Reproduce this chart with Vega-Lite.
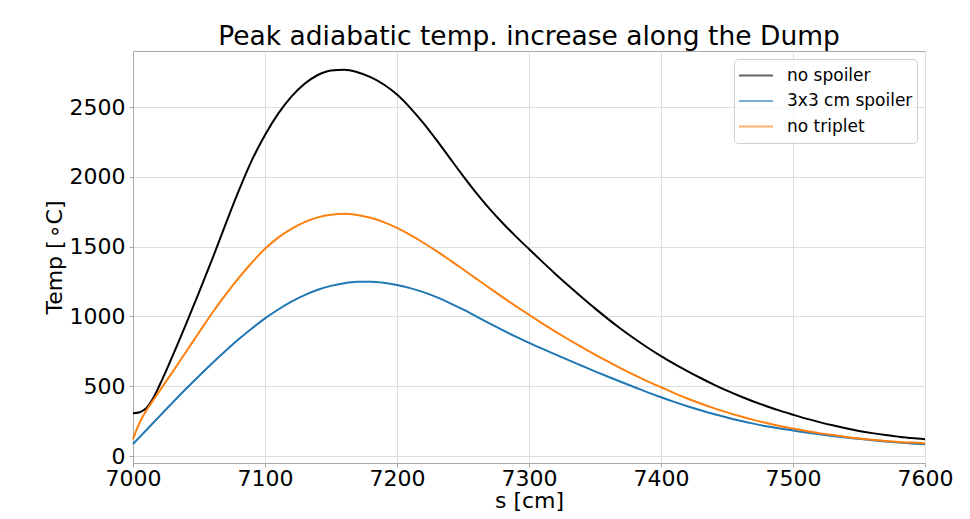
{
  "$schema": "https://vega.github.io/schema/vega-lite/v6.json",
  "autosize": {"type": "none"},
  "width": 792,
  "height": 412,
  "padding": {"left": 133, "top": 51, "right": 45, "bottom": 56},
  "background": "white",
  "config": {
    "font": "DejaVu Sans",
    "view": {"stroke": "#a8a8a8", "strokeWidth": 1},
    "axis": {
      "labelFont": "DejaVu Sans", "titleFont": "DejaVu Sans",
      "labelFontSize": 22, "titleFontSize": 22, "titleFontWeight": "normal",
      "labelColor": "#000000", "titleColor": "#000000",
      "gridColor": "#dddddd", "gridWidth": 1,
      "domainColor": "#a8a8a8", "tickColor": "#a8a8a8", "tickSize": 4
    }
  },
  "title": {
    "text": "Peak adiabatic temp. increase along the Dump",
    "font": "DejaVu Sans", "fontSize": 26.5, "fontWeight": "normal",
    "color": "#000000", "offset": 1, "anchor": "middle"
  },
  "data": {"values": [
    {"s": 7000, "T": 306, "case": "no spoiler"},
    {"s": 7005, "T": 314, "case": "no spoiler"},
    {"s": 7010, "T": 342, "case": "no spoiler"},
    {"s": 7015, "T": 410, "case": "no spoiler"},
    {"s": 7020, "T": 505, "case": "no spoiler"},
    {"s": 7030, "T": 718, "case": "no spoiler"},
    {"s": 7040, "T": 942, "case": "no spoiler"},
    {"s": 7050, "T": 1172, "case": "no spoiler"},
    {"s": 7060, "T": 1410, "case": "no spoiler"},
    {"s": 7070, "T": 1658, "case": "no spoiler"},
    {"s": 7080, "T": 1898, "case": "no spoiler"},
    {"s": 7090, "T": 2118, "case": "no spoiler"},
    {"s": 7100, "T": 2300, "case": "no spoiler"},
    {"s": 7110, "T": 2453, "case": "no spoiler"},
    {"s": 7120, "T": 2575, "case": "no spoiler"},
    {"s": 7130, "T": 2667, "case": "no spoiler"},
    {"s": 7140, "T": 2730, "case": "no spoiler"},
    {"s": 7150, "T": 2763, "case": "no spoiler"},
    {"s": 7160, "T": 2768, "case": "no spoiler"},
    {"s": 7170, "T": 2750, "case": "no spoiler"},
    {"s": 7180, "T": 2715, "case": "no spoiler"},
    {"s": 7190, "T": 2662, "case": "no spoiler"},
    {"s": 7200, "T": 2590, "case": "no spoiler"},
    {"s": 7210, "T": 2495, "case": "no spoiler"},
    {"s": 7220, "T": 2385, "case": "no spoiler"},
    {"s": 7230, "T": 2263, "case": "no spoiler"},
    {"s": 7240, "T": 2135, "case": "no spoiler"},
    {"s": 7250, "T": 2008, "case": "no spoiler"},
    {"s": 7260, "T": 1886, "case": "no spoiler"},
    {"s": 7270, "T": 1773, "case": "no spoiler"},
    {"s": 7280, "T": 1670, "case": "no spoiler"},
    {"s": 7290, "T": 1574, "case": "no spoiler"},
    {"s": 7300, "T": 1483, "case": "no spoiler"},
    {"s": 7310, "T": 1393, "case": "no spoiler"},
    {"s": 7320, "T": 1305, "case": "no spoiler"},
    {"s": 7330, "T": 1220, "case": "no spoiler"},
    {"s": 7340, "T": 1138, "case": "no spoiler"},
    {"s": 7350, "T": 1058, "case": "no spoiler"},
    {"s": 7360, "T": 981, "case": "no spoiler"},
    {"s": 7370, "T": 908, "case": "no spoiler"},
    {"s": 7380, "T": 840, "case": "no spoiler"},
    {"s": 7390, "T": 776, "case": "no spoiler"},
    {"s": 7400, "T": 716, "case": "no spoiler"},
    {"s": 7410, "T": 661, "case": "no spoiler"},
    {"s": 7420, "T": 609, "case": "no spoiler"},
    {"s": 7430, "T": 559, "case": "no spoiler"},
    {"s": 7440, "T": 512, "case": "no spoiler"},
    {"s": 7450, "T": 468, "case": "no spoiler"},
    {"s": 7460, "T": 428, "case": "no spoiler"},
    {"s": 7470, "T": 391, "case": "no spoiler"},
    {"s": 7480, "T": 357, "case": "no spoiler"},
    {"s": 7490, "T": 325, "case": "no spoiler"},
    {"s": 7500, "T": 296, "case": "no spoiler"},
    {"s": 7510, "T": 268, "case": "no spoiler"},
    {"s": 7520, "T": 243, "case": "no spoiler"},
    {"s": 7530, "T": 220, "case": "no spoiler"},
    {"s": 7540, "T": 199, "case": "no spoiler"},
    {"s": 7550, "T": 180, "case": "no spoiler"},
    {"s": 7560, "T": 164, "case": "no spoiler"},
    {"s": 7570, "T": 150, "case": "no spoiler"},
    {"s": 7580, "T": 139, "case": "no spoiler"},
    {"s": 7590, "T": 129, "case": "no spoiler"},
    {"s": 7600, "T": 121, "case": "no spoiler"},

    {"s": 7000, "T": 86, "case": "3x3 cm spoiler"},
    {"s": 7010, "T": 185, "case": "3x3 cm spoiler"},
    {"s": 7020, "T": 284, "case": "3x3 cm spoiler"},
    {"s": 7030, "T": 383, "case": "3x3 cm spoiler"},
    {"s": 7040, "T": 480, "case": "3x3 cm spoiler"},
    {"s": 7050, "T": 574, "case": "3x3 cm spoiler"},
    {"s": 7060, "T": 665, "case": "3x3 cm spoiler"},
    {"s": 7070, "T": 752, "case": "3x3 cm spoiler"},
    {"s": 7080, "T": 836, "case": "3x3 cm spoiler"},
    {"s": 7090, "T": 914, "case": "3x3 cm spoiler"},
    {"s": 7100, "T": 986, "case": "3x3 cm spoiler"},
    {"s": 7110, "T": 1050, "case": "3x3 cm spoiler"},
    {"s": 7120, "T": 1106, "case": "3x3 cm spoiler"},
    {"s": 7130, "T": 1153, "case": "3x3 cm spoiler"},
    {"s": 7140, "T": 1191, "case": "3x3 cm spoiler"},
    {"s": 7150, "T": 1219, "case": "3x3 cm spoiler"},
    {"s": 7160, "T": 1238, "case": "3x3 cm spoiler"},
    {"s": 7170, "T": 1248, "case": "3x3 cm spoiler"},
    {"s": 7180, "T": 1249, "case": "3x3 cm spoiler"},
    {"s": 7190, "T": 1241, "case": "3x3 cm spoiler"},
    {"s": 7200, "T": 1225, "case": "3x3 cm spoiler"},
    {"s": 7210, "T": 1203, "case": "3x3 cm spoiler"},
    {"s": 7220, "T": 1174, "case": "3x3 cm spoiler"},
    {"s": 7230, "T": 1138, "case": "3x3 cm spoiler"},
    {"s": 7240, "T": 1096, "case": "3x3 cm spoiler"},
    {"s": 7250, "T": 1050, "case": "3x3 cm spoiler"},
    {"s": 7260, "T": 1001, "case": "3x3 cm spoiler"},
    {"s": 7270, "T": 951, "case": "3x3 cm spoiler"},
    {"s": 7280, "T": 902, "case": "3x3 cm spoiler"},
    {"s": 7290, "T": 855, "case": "3x3 cm spoiler"},
    {"s": 7300, "T": 811, "case": "3x3 cm spoiler"},
    {"s": 7310, "T": 769, "case": "3x3 cm spoiler"},
    {"s": 7320, "T": 728, "case": "3x3 cm spoiler"},
    {"s": 7330, "T": 687, "case": "3x3 cm spoiler"},
    {"s": 7340, "T": 647, "case": "3x3 cm spoiler"},
    {"s": 7350, "T": 607, "case": "3x3 cm spoiler"},
    {"s": 7360, "T": 568, "case": "3x3 cm spoiler"},
    {"s": 7370, "T": 530, "case": "3x3 cm spoiler"},
    {"s": 7380, "T": 493, "case": "3x3 cm spoiler"},
    {"s": 7390, "T": 456, "case": "3x3 cm spoiler"},
    {"s": 7400, "T": 421, "case": "3x3 cm spoiler"},
    {"s": 7410, "T": 388, "case": "3x3 cm spoiler"},
    {"s": 7420, "T": 357, "case": "3x3 cm spoiler"},
    {"s": 7430, "T": 328, "case": "3x3 cm spoiler"},
    {"s": 7440, "T": 301, "case": "3x3 cm spoiler"},
    {"s": 7450, "T": 276, "case": "3x3 cm spoiler"},
    {"s": 7460, "T": 253, "case": "3x3 cm spoiler"},
    {"s": 7470, "T": 232, "case": "3x3 cm spoiler"},
    {"s": 7480, "T": 213, "case": "3x3 cm spoiler"},
    {"s": 7490, "T": 197, "case": "3x3 cm spoiler"},
    {"s": 7500, "T": 183, "case": "3x3 cm spoiler"},
    {"s": 7510, "T": 169, "case": "3x3 cm spoiler"},
    {"s": 7520, "T": 156, "case": "3x3 cm spoiler"},
    {"s": 7530, "T": 144, "case": "3x3 cm spoiler"},
    {"s": 7540, "T": 133, "case": "3x3 cm spoiler"},
    {"s": 7550, "T": 123, "case": "3x3 cm spoiler"},
    {"s": 7560, "T": 113, "case": "3x3 cm spoiler"},
    {"s": 7570, "T": 104, "case": "3x3 cm spoiler"},
    {"s": 7580, "T": 96, "case": "3x3 cm spoiler"},
    {"s": 7590, "T": 89, "case": "3x3 cm spoiler"},
    {"s": 7600, "T": 84, "case": "3x3 cm spoiler"},

    {"s": 7000, "T": 120, "case": "no triplet"},
    {"s": 7003, "T": 195, "case": "no triplet"},
    {"s": 7006, "T": 258, "case": "no triplet"},
    {"s": 7010, "T": 325, "case": "no triplet"},
    {"s": 7015, "T": 395, "case": "no triplet"},
    {"s": 7020, "T": 465, "case": "no triplet"},
    {"s": 7030, "T": 603, "case": "no triplet"},
    {"s": 7040, "T": 744, "case": "no triplet"},
    {"s": 7050, "T": 885, "case": "no triplet"},
    {"s": 7060, "T": 1025, "case": "no triplet"},
    {"s": 7070, "T": 1155, "case": "no triplet"},
    {"s": 7080, "T": 1275, "case": "no triplet"},
    {"s": 7090, "T": 1385, "case": "no triplet"},
    {"s": 7100, "T": 1485, "case": "no triplet"},
    {"s": 7110, "T": 1565, "case": "no triplet"},
    {"s": 7120, "T": 1628, "case": "no triplet"},
    {"s": 7130, "T": 1676, "case": "no triplet"},
    {"s": 7140, "T": 1710, "case": "no triplet"},
    {"s": 7150, "T": 1729, "case": "no triplet"},
    {"s": 7160, "T": 1735, "case": "no triplet"},
    {"s": 7170, "T": 1727, "case": "no triplet"},
    {"s": 7180, "T": 1707, "case": "no triplet"},
    {"s": 7190, "T": 1676, "case": "no triplet"},
    {"s": 7200, "T": 1634, "case": "no triplet"},
    {"s": 7210, "T": 1584, "case": "no triplet"},
    {"s": 7220, "T": 1528, "case": "no triplet"},
    {"s": 7230, "T": 1468, "case": "no triplet"},
    {"s": 7240, "T": 1404, "case": "no triplet"},
    {"s": 7250, "T": 1338, "case": "no triplet"},
    {"s": 7260, "T": 1271, "case": "no triplet"},
    {"s": 7270, "T": 1204, "case": "no triplet"},
    {"s": 7280, "T": 1138, "case": "no triplet"},
    {"s": 7290, "T": 1074, "case": "no triplet"},
    {"s": 7300, "T": 1012, "case": "no triplet"},
    {"s": 7310, "T": 951, "case": "no triplet"},
    {"s": 7320, "T": 892, "case": "no triplet"},
    {"s": 7330, "T": 835, "case": "no triplet"},
    {"s": 7340, "T": 780, "case": "no triplet"},
    {"s": 7350, "T": 727, "case": "no triplet"},
    {"s": 7360, "T": 676, "case": "no triplet"},
    {"s": 7370, "T": 627, "case": "no triplet"},
    {"s": 7380, "T": 580, "case": "no triplet"},
    {"s": 7390, "T": 535, "case": "no triplet"},
    {"s": 7400, "T": 493, "case": "no triplet"},
    {"s": 7410, "T": 451, "case": "no triplet"},
    {"s": 7420, "T": 412, "case": "no triplet"},
    {"s": 7430, "T": 376, "case": "no triplet"},
    {"s": 7440, "T": 343, "case": "no triplet"},
    {"s": 7450, "T": 313, "case": "no triplet"},
    {"s": 7460, "T": 285, "case": "no triplet"},
    {"s": 7470, "T": 259, "case": "no triplet"},
    {"s": 7480, "T": 236, "case": "no triplet"},
    {"s": 7490, "T": 215, "case": "no triplet"},
    {"s": 7500, "T": 197, "case": "no triplet"},
    {"s": 7510, "T": 180, "case": "no triplet"},
    {"s": 7520, "T": 164, "case": "no triplet"},
    {"s": 7530, "T": 150, "case": "no triplet"},
    {"s": 7540, "T": 137, "case": "no triplet"},
    {"s": 7550, "T": 126, "case": "no triplet"},
    {"s": 7560, "T": 116, "case": "no triplet"},
    {"s": 7570, "T": 108, "case": "no triplet"},
    {"s": 7580, "T": 101, "case": "no triplet"},
    {"s": 7590, "T": 96, "case": "no triplet"},
    {"s": 7600, "T": 92, "case": "no triplet"}
  ]},
  "mark": {"type": "line", "interpolate": "monotone", "strokeWidth": 2},
  "encoding": {
    "x": {
      "field": "s", "type": "quantitative",
      "scale": {"domain": [7000, 7600], "nice": false, "zero": false},
      "axis": {"values": [7000, 7100, 7200, 7300, 7400, 7500, 7600], "title": "s [cm]", "labelPadding": 1, "titlePadding": 1, "format": "d", "labelFlush": false}
    },
    "y": {
      "field": "T", "type": "quantitative",
      "scale": {"domain": [-50, 2902], "nice": false, "zero": false},
      "axis": {"values": [0, 500, 1000, 1500, 2000, 2500], "title": "Temp [\u200a∘C]", "labelPadding": 4, "titlePadding": 3, "format": "d", "labelFlush": false}
    },
    "color": {
      "field": "case", "type": "nominal",
      "sort": ["no spoiler", "3x3 cm spoiler", "no triplet"],
      "scale": {"domain": ["no spoiler", "3x3 cm spoiler", "no triplet"], "range": ["#000000", "#1f77b4", "#ff7f0e"]},
      "legend": {
        "title": null, "orient": "top-right", "offset": 8,
        "symbolType": "stroke", "symbolSize": 1156, "symbolStrokeWidth": 2, "symbolOpacity": 0.6,
        "clipHeight": 25, "rowPadding": 0.5,
        "labelFont": "DejaVu Sans", "labelFontSize": 17, "labelColor": "#000000", "labelOffset": 13,
        "padding": 4, "strokeColor": "#d0d0d0", "cornerRadius": 4, "fillColor": "rgba(255,255,255,0.8)"
      }
    }
  }
}
